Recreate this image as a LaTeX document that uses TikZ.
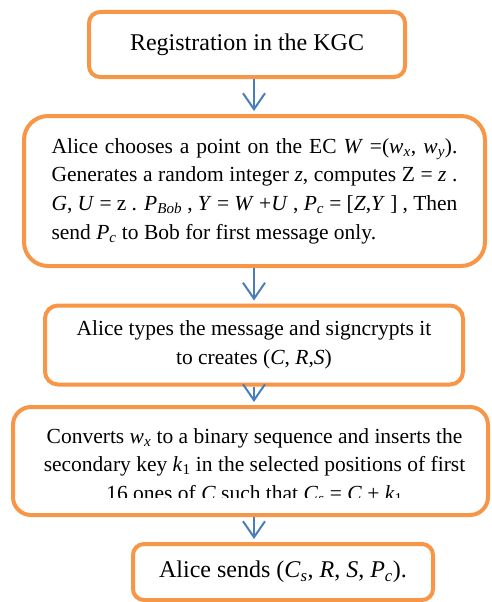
\documentclass[tikz,border=0pt]{standalone}
\usepackage{fontspec}
\setmainfont{Liberation Serif}
\usetikzlibrary{arrows.meta}
\definecolor{boxorange}{HTML}{F79646}
\definecolor{arrowblue}{HTML}{4A7EBB}
\newcommand{\vi}[1]{\textit{#1}}
\newcommand{\sbi}[1]{\textsubscript{\textit{#1}}}
\begin{document}
\begin{tikzpicture}[x=1pt,y=-1pt,
  box/.style={draw=boxorange, line width=4pt, fill=white, inner sep=0pt,
    font=\fontsize{24}{28.5}\selectfont},
  small/.style={font=\fontsize{21.5}{28.7}\selectfont},
  txt/.style={inner sep=0pt},
  flow/.style={draw=arrowblue, line width=2pt,
    -{Straight Barb[length=16pt,width=22pt]}, shorten >=3pt}]
\useasboundingbox (0,0) rectangle (491,602);

\node[box, rounded corners=11pt, minimum width=316pt, minimum height=65pt] (b1) at (247,44.5)
  {Registration in the KGC};

\node[box, small, rounded corners=24pt, minimum width=461pt, minimum height=150pt,
      align=left] (b2) at (254.5,191)
  {\makebox[406pt][s]{Alice chooses a point on the EC \vi{W} =(\vi{w}\sbi{x}, \vi{w}\sbi{y}).}\\
   \makebox[406pt][s]{Generates a random integer \vi{z}, computes Z = \vi{z} .}\\
   \makebox[406pt][s]{\vi{G}, \vi{U} = z . \vi{P}\sbi{Bob} , \vi{Y} = \vi{W} +\vi{U} , \vi{P}\sbi{c} = [\vi{Z},\vi{Y} ] , Then}\\
   \makebox[406pt][l]{send \vi{P}\sbi{c} to Bob for first message only.}};

\node[box, small, rounded corners=13pt, minimum width=418pt, minimum height=79pt,
      align=center] (b3) at (254,345)
  {Alice types the message and signcrypts it\\ to creates (\vi{C}, \vi{R},\vi{S})};

\node[box, rounded corners=18pt, minimum width=475pt, minimum height=108pt] (b4) at (250.5,461) {};
\begin{scope}
  \clip (14,408) rectangle (487,497);
  \node[txt, small, align=center] (t4) at (254.5,466)
    {Converts \vi{w}\sbi{x} to a binary sequence and inserts the\\
     secondary key \vi{k}\textsubscript{1} in the selected positions of first\\
     16 ones of \vi{C} such that \vi{C}\sbi{s} = \vi{C} + \vi{k}\textsubscript{1}};
\end{scope}

\node[box, rounded corners=11pt, minimum width=300pt, minimum height=56pt] (b5) at (283,572)
  {Alice sends (\vi{C}\sbi{s}, \vi{R}, \vi{S}, \vi{P}\sbi{c}).};

\draw[flow] (b1.south -| b3.center) -- (b2.north -| b3.center);
\draw[flow] (b2.south -| b3.center) -- (b3.north);
\draw[flow] (b3.south) -- (b4.north -| b3.center);
\draw[flow] (b4.south -| b3.center) -- (b5.north -| b3.center);
\end{tikzpicture}
\end{document}
